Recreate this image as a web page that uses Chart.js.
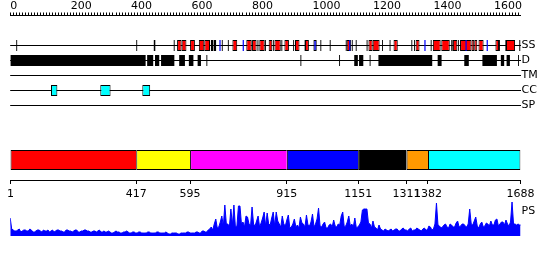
<!DOCTYPE html>
<html><head><meta charset="utf-8">
<script src="https://cdn.jsdelivr.net/npm/chart.js@4.4.1/dist/chart.umd.min.js"></script>
<style>
html,body{margin:0;padding:0;background:#fff;}
#wrap{position:relative;width:550px;height:260px;overflow:hidden;background:#fff;}
canvas{position:absolute;left:0;}
</style></head><body>
<div id="wrap">
<canvas id="cTracks" width="550" height="123" style="top:0px"></canvas>
<canvas id="cDomains" width="550" height="65" style="top:140px"></canvas>
<canvas id="cPS" width="550" height="55" style="top:190px"></canvas>
</div>
<script>
// ---------------- data ----------------
const SEQ_LEN = 1688;
const rulerStep = 10;
const rulerLabelStep = 200;
const trackNames = ['SS', 'D', 'TM', 'CC', 'SP'];

// secondary structure (residue ranges)
const helices = [[552,567],[567,583],[595,611],[624,642],[642,661],[735,751],[781,799],[800,815],
  [824,842],[855,867],[874,895],[907,922],[942,957],[975,988],[1113,1127],[1185,1199],[1199,1222],
  [1268,1282],[1341,1354],[1398,1424],[1426,1454],[1464,1479],[1488,1526],[1526,1535],[1535,1545],
  [1549,1566],[1605,1617],[1640,1670]];
const strands = [[692,696],[769,773],[1003,1014],[1121,1125],[1370,1374],[1506,1510],[1576,1580]];
const ssMarks = [[20,23],[417,420],[475,480],[541,544],[664,672],[674,681],[700,703],[720,723],
  [818,821],[843,846],[869,872],[897,900],[936,939],[974,977],[1026,1029],[1057,1060],[1110,1113],
  [1130,1133],[1143,1146],[1179,1182],[1230,1233],[1255,1258],[1327,1330],[1336,1339],[1391,1394],
  [1459,1462],[1463,1466],[1481,1484],[1617,1620],[1638,1641],[1684,1688]];
// disorder
const disorder = [[1,448],[453,473],[479,493],[499,543],[559,578],[591,606],[620,631],[649,652],
  [960,963],[1088,1091],[1138,1150],[1154,1168],[1189,1192],[1218,1396],[1414,1427],[1502,1517],
  [1562,1610],[1623,1634],[1642,1653],[1680,1683]];
const transmembrane = [];
const coiledCoils = [[135,156],[298,332],[437,463]];
const signalPeptide = [];

// domains
const domainBounds = [1, 417, 595, 915, 1151, 1311, 1382, 1688];

// PS profile, one value every psStep residues starting at 0
const psStep = 5;
const psValues = [
  18,7,6,5,5,6,7,4,5,6,
  6,5,5,7,6,4,4,5,6,6,
  5,4,6,5,5,6,4,5,6,4,
  5,6,6,5,5,4,4,6,6,5,
  5,4,5,6,6,4,4,5,5,6,
  6,5,5,4,4,5,5,4,5,6,
  4,4,5,4,4,5,4,3,3,4,
  5,4,4,3,3,4,4,5,4,3,
  3,4,4,3,3,4,4,3,3,3,
  3,4,4,3,3,3,3,4,4,3,
  3,3,3,4,3,2,2,3,3,3,
  3,2,2,3,3,3,3,4,4,3,
  3,3,3,4,4,3,3,5,5,4,
  4,6,7,9,6,12,17,8,9,14,
  20,10,31,12,12,9,27,11,31,9,
  10,30,30,12,14,9,20,19,12,10,
  29,12,10,15,20,9,13,18,24,10,
  23,12,11,18,24,10,24,15,12,9,
  20,12,10,16,21,8,9,12,17,9,
  11,8,19,13,12,9,21,11,10,14,
  22,9,12,17,28,10,9,12,14,8,
  8,11,12,9,16,10,9,12,11,20,
  24,9,10,14,20,10,12,9,18,8,
  9,11,14,26,27,27,27,13,12,8,
  15,9,8,6,11,7,6,5,7,6,
  5,6,7,5,6,7,7,5,5,7,
  8,6,6,5,7,8,5,6,6,8,
  7,6,5,7,8,6,6,10,9,6,
  7,12,33,11,10,8,9,11,12,9,
  8,12,11,9,9,13,15,9,10,12,
  12,10,9,12,27,12,11,15,19,10,
  8,12,14,9,10,13,12,10,15,11,
  11,16,17,10,12,14,14,11,16,12,
  10,14,34,12,12,11,12,11,11
];
const psLabel = 'PS';

// ---------------- styles / geometry ----------------
const PS_MAX = 34;
const PS_LABEL_AT = 25;
const PLOT_LEFT = 10.2;
const LABEL_W = 29.5;
const domainColors = ['#ff0000','#ffff00','#ff00ff','#0000ff','#000000','#ff9900','#00ffff'];

Chart.defaults.font.family = "'DejaVu Sans', sans-serif";
Chart.defaults.font.size = 11;
Chart.defaults.color = '#000';

const common = {
  responsive: false, animation: false, devicePixelRatio: 1,
  plugins: { legend: { display: false }, tooltip: { enabled: false } },
  events: []
};

function trackIndex(name) { return trackNames.indexOf(name) + 1; }
function barSet(ranges, track, color, border) {
  return {
    data: ranges.map(r => ({ x: r, y: trackIndex(track) })),
    backgroundColor: color,
    borderColor: '#000',
    borderWidth: border,
    borderSkipped: false,
    barThickness: 11,
    grouped: false,
    inflateAmount: 0
  };
}
const thinBorder = ctx => {
  const r = ctx.raw; if (!r) return 0;
  return (r.x[1] - r.x[0]) >= 8 ? 1 : 0;
};

// ---------------- chart 1: ruler + tracks ----------------
new Chart(document.getElementById('cTracks'), {
  type: 'bar',
  data: { datasets: [
    barSet(strands, 'SS', '#0000ff', thinBorder),
    barSet(ssMarks, 'SS', '#000000', 0),
    barSet(helices, 'SS', '#ff0000', 1),
    barSet(disorder, 'D', '#000000', 0),
    barSet(transmembrane, 'TM', '#00ff00', 1),
    barSet(coiledCoils, 'CC', '#00ffff', 1),
    barSet(signalPeptide, 'SP', '#ff00ff', 1)
  ]},
  options: Object.assign({}, common, {
    indexAxis: 'y',
    layout: { padding: { left: PLOT_LEFT, right: 0, top: 0.5, bottom: 10 } },
    scales: {
      x: {
        type: 'linear', position: 'top', min: 0, max: SEQ_LEN, offset: false,
        afterBuildTicks: s => { const t = []; for (let v = 0; v <= SEQ_LEN; v += rulerStep) t.push({ value: v }); s.ticks = t; },
        afterFit: s => { s.height = 15; },
        ticks: { autoSkip: false, maxRotation: 0, minRotation: 0, align: 'start', padding: 0,
          callback: v => (v % rulerLabelStep === 0 ? String(v) : '') },
        grid: { drawOnChartArea: false, drawTicks: true, tickLength: 3, color: '#000', lineWidth: 1, offset: false },
        border: { display: true, color: '#000', width: 1 }
      },
      y: {
        type: 'linear', position: 'right', min: -1, max: 5.5, reverse: true, offset: false,
        afterBuildTicks: s => { s.ticks = trackNames.map((n, i) => ({ value: i + 1 })); },
        afterFit: s => { s.width = LABEL_W; },
        ticks: { padding: 1, callback: v => trackNames[v - 1] || '' },
        grid: { drawTicks: false, color: '#000', lineWidth: 1, offset: false },
        border: { display: false }
      }
    }
  })
});

// ---------------- chart 2: domains ----------------
const nDom = domainBounds.length - 1;
new Chart(document.getElementById('cDomains'), {
  type: 'bar',
  data: { datasets: [{
    data: domainBounds.slice(0, -1).map((b, i) => ({ x: [b, domainBounds[i + 1]], y: 2 })),
    backgroundColor: domainColors,
    borderColor: '#000',
    borderWidth: ctx => ({ top: 1, bottom: 1, left: 1, right: ctx.dataIndex === nDom - 1 ? 1 : 0 }),
    borderSkipped: false, barThickness: 20, grouped: false, inflateAmount: 0
  }]},
  options: Object.assign({}, common, {
    indexAxis: 'y',
    layout: { padding: { left: PLOT_LEFT, right: LABEL_W, top: 10, bottom: 0 } },
    scales: {
      x: {
        type: 'linear', position: 'bottom', min: 0, max: SEQ_LEN, offset: false,
        afterBuildTicks: s => { s.ticks = domainBounds.map(v => ({ value: v })); },
        afterFit: s => { s.height = 25; },
        ticks: { autoSkip: false, maxRotation: 0, minRotation: 0, padding: 4, callback: v => String(v) },
        grid: { drawOnChartArea: false, drawTicks: true, tickLength: 4, color: '#000', offset: false },
        border: { display: true, color: '#000' }
      },
      y: { type: 'linear', display: false, min: 0, max: 3, offset: false }
    }
  })
});

// ---------------- chart 3: PS profile ----------------
new Chart(document.getElementById('cPS'), {
  type: 'line',
  data: { datasets: [{
    data: psValues.map((v, i) => ({ x: i * psStep, y: v })),
    borderColor: '#0000ff', backgroundColor: '#0000ff', borderWidth: 1,
    pointRadius: 0, fill: 'origin', tension: 0
  }]},
  options: Object.assign({}, common, {
    layout: { padding: { left: PLOT_LEFT, right: 0, top: 12, bottom: 9 } },
    scales: {
      x: { type: 'linear', display: false, min: 0, max: SEQ_LEN },
      y: {
        type: 'linear', position: 'right', min: 0, max: PS_MAX,
        afterBuildTicks: s => { s.ticks = [{ value: PS_LABEL_AT }]; },
        afterFit: s => { s.width = LABEL_W; },
        ticks: { padding: 1, callback: () => psLabel },
        grid: { display: false, drawTicks: false },
        border: { display: false }
      }
    }
  })
});
</script>
</body></html>
